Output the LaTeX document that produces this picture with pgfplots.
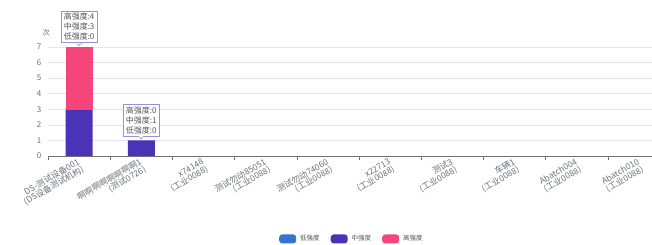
\documentclass[border=0pt]{standalone}
\usepackage{pgfplots}
\pgfplotsset{compat=1.18}
\usepackage{fontspec}
\setmainfont{Noto Sans CJK SC}
\definecolor{low}{HTML}{3176D0}
\definecolor{mid}{HTML}{4B33B8}
\definecolor{high}{HTML}{F5457B}
\definecolor{tickc}{HTML}{6E7079}
\definecolor{gridc}{HTML}{E0E6F1}
\definecolor{tipb}{HTML}{9A8FDB}
\definecolor{tipt}{HTML}{555555}
\tikzset{tip/.style={draw=tipb, fill=white, line width=0.6pt, inner xsep=2.5pt, inner ysep=2pt, align=left, text=tipt, font=\fontsize{8}{10}\selectfont}}
\begin{document}
\begin{tikzpicture}[x=1pt,y=1pt]
\useasboundingbox (0,0) rectangle (652,245);
\clip (0,0) rectangle (652,245);
\begin{axis}[
  at={(48pt,89pt)}, anchor=south west, scale only axis,
  width=622pt, height=109pt,
  xmin=-0.5, xmax=9.5, ymin=0, ymax=7,
  ybar stacked, bar width=27pt,
  axis lines*=left, axis line style={-},
  x axis line style={draw=tickc, line width=0.5pt},
  y axis line style={draw=none},
  xtick={0,...,9},
  xticklabels={{DS-测试设备001\\(DS设备测试机构)},{啊啊啊啊啊啊啊啊1\\(测试0726)},{x74148\\(工业0088)},{测试勿动85051\\(工业0088)},{测试勿动74060\\(工业0088)},{x22713\\(工业0088)},{测试3\\(工业0088)},{车辆1\\(工业0088)},{Abatch004\\(工业0088)},{Abatch010\\(工业0088)}},
  major x tick style={draw=none},
  minor xtick={-0.5,0.5,...,9.5},
  minor x tick style={draw=tickc, line width=0.5pt},
  minor tick length=4pt, tick align=outside,
  xticklabel style={xshift=2pt, yshift=-5pt, rotate=30, anchor=east, align=right, text=tickc, font=\fontsize{8.5}{8.5}\selectfont, inner sep=0pt},
  ytick={0,...,7},
  ytick style={draw=none},
  yticklabel style={text=tickc, font=\fontsize{8}{9}\selectfont, xshift=1pt},
  /pgf/number format/assume math mode=true,
  ymajorgrids, grid style={gridc, line width=0.5pt},
  legend columns=3,
  legend style={draw=none, at={(rel axis cs:0.4887,-0.761)}, anchor=center, font=\fontsize{6.5}{8}\selectfont, text=tipt, /tikz/every even column/.append style={column sep=9pt}},
  legend image code/.code={\fill[#1, rounded corners=3pt] (0pt,-4.5pt) rectangle (17pt,4.5pt); \path (19pt,0pt);},
]
\addplot[fill=low, draw=none] coordinates {(0,0) (1,0) (2,0) (3,0) (4,0) (5,0) (6,0) (7,0) (8,0) (9,0)};
\addplot[fill=mid, draw=none] coordinates {(0,3) (1,1) (2,0) (3,0) (4,0) (5,0) (6,0) (7,0) (8,0) (9,0)};
\addplot[fill=high, draw=none] coordinates {(0,4) (1,0) (2,0) (3,0) (4,0) (5,0) (6,0) (7,0) (8,0) (9,0)};
\legend{低强度,中强度,高强度}
\coordinate (t1) at (axis cs:0,7);
\coordinate (t2) at (axis cs:1,1);
\coordinate (yl) at (rel axis cs:-0.0032,1.128);
\end{axis}
\node[text=tickc, font=\fontsize{7.5}{9}\selectfont] at (yl) {次};
\node[tip, anchor=south] (b1) at ([yshift=4pt]t1) {高强度:4\\中强度:3\\低强度:0};
\node[tip, anchor=south] (b2) at ([yshift=4pt]t2) {高强度:0\\中强度:1\\低强度:0};
\filldraw[fill=white, draw=tipb, line width=0.6pt] ([xshift=-2.5pt]b1.south) -- ([yshift=-2.5pt]b1.south) -- ([xshift=2.5pt]b1.south);
\fill[white] ([xshift=-2pt,yshift=-0.1pt]b1.south) rectangle ([xshift=2pt,yshift=0.5pt]b1.south);
\filldraw[fill=white, draw=tipb, line width=0.6pt] ([xshift=-2.5pt]b2.south) -- ([yshift=-2.5pt]b2.south) -- ([xshift=2.5pt]b2.south);
\fill[white] ([xshift=-2pt,yshift=-0.1pt]b2.south) rectangle ([xshift=2pt,yshift=0.5pt]b2.south);
\end{tikzpicture}
\end{document}
